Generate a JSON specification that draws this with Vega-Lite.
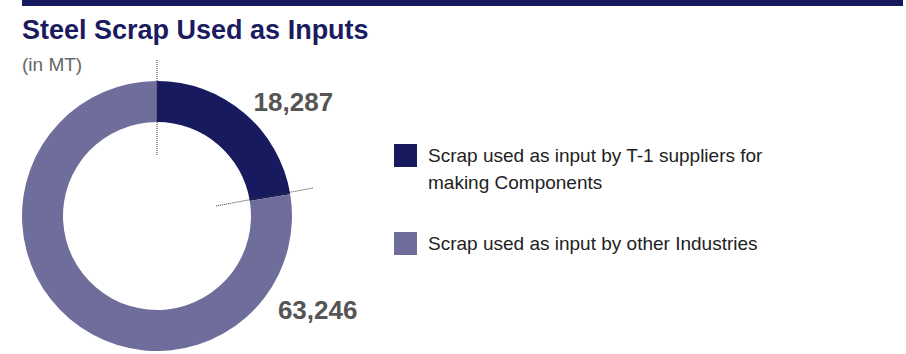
{
  "$schema": "https://vega.github.io/schema/vega-lite/v6.json",
  "padding": {"left": 22, "top": 0, "right": 3, "bottom": 0},
  "background": "white",
  "config": {"view": {"stroke": null}, "font": "Liberation Sans"},
  "spacing": 10,
  "datasets": {
    "scrap": [
      {"category": "Scrap used as input by T-1 suppliers for making Components", "value": 18287, "rank": 1},
      {"category": "Scrap used as input by other Industries", "value": 63246, "rank": 2}
    ],
    "band": [{"start": 0, "end": 1}]
  },
  "vconcat": [
    {
      "width": 881,
      "height": 6,
      "data": {"name": "band"},
      "mark": {"type": "rect", "color": "#16195c"},
      "encoding": {
        "x": {"field": "start", "type": "quantitative", "scale": {"domain": [0, 1], "nice": false}, "axis": null},
        "x2": {"field": "end"}
      }
    },
    {
      "width": 270,
      "height": 270,
      "title": {
        "text": "Steel Scrap Used as Inputs",
        "subtitle": "(in MT)",
        "anchor": "start",
        "frame": "group",
        "font": "Liberation Sans",
        "fontSize": 27,
        "fontWeight": "bold",
        "color": "#1b1c5f",
        "subtitleFont": "Liberation Sans",
        "subtitleFontSize": 19,
        "subtitleColor": "#666666",
        "subtitlePadding": 11,
        "offset": -16
      },
      "data": {"name": "scrap"},
      "layer": [
        {
          "mark": {"type": "arc", "innerRadius": 94, "outerRadius": 135},
          "encoding": {
            "theta": {"field": "value", "type": "quantitative", "stack": true},
            "order": {"field": "rank", "type": "quantitative"},
            "color": {
              "field": "category",
              "type": "nominal",
              "scale": {
                "domain": ["Scrap used as input by T-1 suppliers for making Components", "Scrap used as input by other Industries"],
                "range": ["#171a5e", "#6f6d9c"]
              },
              "legend": {
                "orient": "none",
                "legendX": 372,
                "legendY": 144,
                "title": null,
                "padding": 0,
                "symbolType": "square",
                "symbolSize": 529,
                "symbolStrokeWidth": 0,
                "symbolOpacity": 1,
                "labelFont": "Liberation Sans",
                "labelFontSize": 19,
                "labelColor": "#222222",
                "labelOffset": 11,
                "labelLimit": 600,
                "rowPadding": 39,
                "labelExpr": "datum.label == 'Scrap used as input by T-1 suppliers for making Components' ? ['Scrap used as input by T-1 suppliers for', 'making Components'] : datum.label",
                "encode": {"labels": {"update": {"lineHeight": {"value": 27.5}}}}
              }
            }
          }
        },
        {
          "transform": [
            {"stack": "value", "groupby": [], "sort": [{"field": "rank", "order": "ascending"}], "as": ["t0", "t1"]},
            {"filter": "datum.rank == 1"}
          ],
          "mark": {"type": "text", "radius": 172, "thetaOffset": -0.4939, "fontSize": 26, "fontWeight": "bold", "color": "#555555", "align": "center", "baseline": "alphabetic"},
          "encoding": {
            "theta": {"field": "t1", "type": "quantitative", "stack": null},
            "text": {"field": "value", "type": "quantitative", "format": ","}
          }
        },
        {
          "transform": [
            {"stack": "value", "groupby": [], "sort": [{"field": "rank", "order": "ascending"}], "as": ["t0", "t1"]},
            {"filter": "datum.rank == 2"}
          ],
          "mark": {"type": "text", "radius": 191, "thetaOffset": 0.733, "fontSize": 26, "fontWeight": "bold", "color": "#555555", "align": "center", "baseline": "alphabetic"},
          "encoding": {
            "theta": {"field": "t0", "type": "quantitative", "stack": null},
            "text": {"field": "value", "type": "quantitative", "format": ","}
          }
        },
        {
          "transform": [{"filter": "datum.rank == 1"}],
          "mark": {"type": "rule", "color": "#333333", "strokeDash": [1, 1], "strokeWidth": 1},
          "encoding": {
            "x": {"datum": 0, "type": "quantitative", "scale": {"domain": [-135, 135], "nice": false, "zero": false}, "axis": null},
            "y": {"datum": 61, "type": "quantitative", "scale": {"domain": [-135, 135], "nice": false, "zero": false}, "axis": null},
            "y2": {"datum": 156}
          }
        },
        {
          "transform": [{"filter": "datum.rank == 1"}],
          "mark": {"type": "rule", "color": "#333333", "strokeDash": [1, 1], "strokeWidth": 1},
          "encoding": {
            "x": {"datum": 59, "type": "quantitative", "scale": {"domain": [-135, 135], "nice": false, "zero": false}, "axis": null},
            "y": {"datum": 10, "type": "quantitative", "scale": {"domain": [-135, 135], "nice": false, "zero": false}, "axis": null},
            "x2": {"datum": 156},
            "y2": {"datum": 28}
          }
        }
      ]
    }
  ]
}
